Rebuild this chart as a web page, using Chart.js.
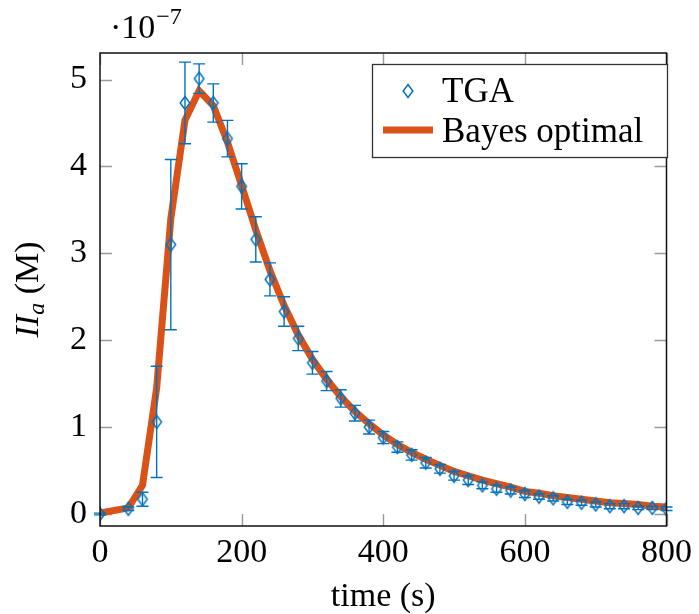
<!DOCTYPE html>
<html>
<head>
<meta charset="utf-8">
<script src="https://cdn.jsdelivr.net/npm/chart.js@4"></script>
<style>
  body { margin: 0; background: #fff; }
  #wrap { width: 699px; height: 614px; }
</style>
</head>
<body>
<div id="wrap"><canvas id="myChart" width="699" height="614"></canvas></div>
<script>
  // time in seconds, values in units of 1e-7 M
  const times = [0, 40, 60, 80, 100, 120, 140, 160, 180, 200, 220, 240, 260, 280, 300, 320, 340, 360, 380, 400,
    420, 440, 460, 480, 500, 520, 540, 560, 580, 600, 620, 640, 660, 680, 700, 720, 740, 760, 780, 800];
  const tga = [0.00, 0.06, 0.17, 1.06, 3.10, 4.73, 5.01, 4.73, 4.32, 3.77, 3.16, 2.70, 2.33, 2.02, 1.74, 1.53, 1.33, 1.16, 1.00, 0.88,
    0.77, 0.68, 0.59, 0.52, 0.44, 0.39, 0.33, 0.29, 0.27, 0.23, 0.20, 0.18, 0.14, 0.13, 0.11, 0.09, 0.09, 0.07, 0.07, 0.06];
  const tgaErr = [0.01, 0.02, 0.08, 0.64, 0.98, 0.47, 0.17, 0.22, 0.21, 0.26, 0.26, 0.19, 0.17, 0.14, 0.13, 0.11, 0.10, 0.09, 0.08, 0.07,
    0.06, 0.06, 0.06, 0.05, 0.05, 0.05, 0.04, 0.04, 0.04, 0.04, 0.03, 0.03, 0.03, 0.03, 0.03, 0.03, 0.03, 0.02, 0.02, 0.02];
  const bayes = [0.01, 0.07, 0.33, 1.45, 3.40, 4.53, 4.87, 4.70, 4.28, 3.78, 3.27, 2.80, 2.40, 2.06, 1.78, 1.55, 1.35, 1.18, 1.04, 0.91,
    0.80, 0.71, 0.63, 0.56, 0.49, 0.44, 0.39, 0.35, 0.31, 0.26, 0.24, 0.21, 0.19, 0.17, 0.15, 0.13, 0.12, 0.11, 0.09, 0.08];
  const xTicks = [0, 200, 400, 600, 800];
  const yTicks = [0, 1, 2, 3, 4, 5];

  const BLUE = '#0072BD';
  const ORANGE = '#D95319';
  const SERIF = '"Liberation Serif", "Times New Roman", serif';

  // hollow tall diamond like pgfplots' mark=diamond
  function diamond() {
    const c = document.createElement('canvas');
    c.width = 14; c.height = 16;
    const g = c.getContext('2d');
    g.strokeStyle = BLUE;
    g.lineWidth = 1.5;
    g.beginPath();
    g.moveTo(7, 1.5); g.lineTo(11.8, 8); g.lineTo(7, 14.5); g.lineTo(2.2, 8); g.closePath();
    g.stroke();
    return c;
  }
  const diamondImg = diamond();

  const decor = {
    id: 'decor',
    beforeDatasetsDraw(chart) {
      const {ctx, chartArea: a, scales: {x, y}} = chart;
      ctx.save();
      ctx.strokeStyle = '#9a9a9a';
      ctx.lineWidth = 1.4;
      ctx.beginPath();
      xTicks.forEach(v => {
        const px = Math.round(x.getPixelForValue(v)) + 0.5;
        ctx.moveTo(px, a.bottom); ctx.lineTo(px, a.bottom - 12);
        ctx.moveTo(px, a.top); ctx.lineTo(px, a.top + 12);
      });
      yTicks.forEach(v => {
        const py = Math.round(y.getPixelForValue(v)) + 0.5;
        ctx.moveTo(a.left, py); ctx.lineTo(a.left + 12, py);
        ctx.moveTo(a.right, py); ctx.lineTo(a.right - 12, py);
      });
      ctx.stroke();
      ctx.restore();
    },
    beforeDatasetDraw(chart, args) {
      if (args.index !== 0) return;
      const {ctx, scales: {x, y}} = chart;
      ctx.save();
      ctx.strokeStyle = BLUE;
      ctx.lineWidth = 1.4;
      ctx.beginPath();
      times.forEach((t, i) => {
        const px = x.getPixelForValue(t);
        const y1 = y.getPixelForValue(tga[i] + tgaErr[i]);
        const y2 = y.getPixelForValue(tga[i] - tgaErr[i]);
        ctx.moveTo(px, y1); ctx.lineTo(px, y2);
        ctx.moveTo(px - 6, y1); ctx.lineTo(px + 6, y1);
        ctx.moveTo(px - 6, y2); ctx.lineTo(px + 6, y2);
      });
      ctx.stroke();
      ctx.restore();
    },
    afterDraw(chart) {
      const {ctx, chartArea: a} = chart;
      ctx.save();
      // frame
      ctx.strokeStyle = '#111';
      ctx.lineWidth = 1.5;
      ctx.strokeRect(a.left, a.top, a.right - a.left, a.bottom - a.top);

      // legend
      const lx = 372, ly = 64, lw = 295, lh = 93;
      ctx.fillStyle = '#fff';
      ctx.fillRect(lx, ly, lw, lh);
      ctx.strokeStyle = '#333';
      ctx.lineWidth = 1.3;
      ctx.strokeRect(lx + 0.5, ly + 0.5, lw, lh);
      const ds = chart.data.datasets;
      ctx.drawImage(diamondImg, 401, 83);
      ctx.strokeStyle = ORANGE;
      ctx.lineWidth = 7;
      ctx.beginPath(); ctx.moveTo(383, 130); ctx.lineTo(433, 130); ctx.stroke();
      ctx.fillStyle = '#000';
      ctx.font = '35px ' + SERIF;
      ctx.textBaseline = 'alphabetic';
      ctx.textAlign = 'left';
      ctx.fillText(ds[0].label, 442, 102);
      ctx.fillText(ds[1].label, 442, 142);

      // exponent label
      ctx.font = '34px ' + SERIF;
      ctx.fillText('\u00b710', 110, 38);
      const w10 = ctx.measureText('\u00b710').width;
      ctx.font = '24px ' + SERIF;
      ctx.fillText('\u22127', 110 + w10 + 1, 24);

      // x title
      ctx.font = '34px ' + SERIF;
      ctx.textAlign = 'center';
      ctx.fillText('time (s)', (a.left + a.right) / 2, 606);

      // y title, rotated, II_a (M)
      ctx.translate(38, (a.top + a.bottom) / 2);
      ctx.rotate(-Math.PI / 2);
      ctx.textAlign = 'left';
      const it = 'italic 34px ' + SERIF, sub = 'italic 24px ' + SERIF, up = '34px ' + SERIF;
      ctx.font = it; const w1 = ctx.measureText('II').width;
      ctx.font = sub; const w2 = ctx.measureText('a').width;
      ctx.font = up; const w3 = ctx.measureText(' (M)').width;
      let cx = -(w1 + w2 + w3) / 2;
      ctx.font = it; ctx.fillText('II', cx, 0); cx += w1;
      ctx.font = sub; ctx.fillText('a', cx, 6); cx += w2;
      ctx.font = up; ctx.fillText(' (M)', cx, 0);
      ctx.restore();
    }
  };

  const ctx = document.getElementById('myChart').getContext('2d');
  const myChart = new Chart(ctx, {
    type: 'scatter',
    data: {
      datasets: [{
        label: 'TGA',
        data: times.map((t, i) => ({x: t, y: tga[i]})),
        pointStyle: diamondImg,
        pointRadius: 7,
        showLine: false,
        order: 1
      }, {
        label: 'Bayes optimal',
        type: 'line',
        data: times.map((t, i) => ({x: t, y: bayes[i]})),
        borderColor: ORANGE,
        borderWidth: 7,
        borderJoinStyle: 'miter',
        pointRadius: 0,
        tension: 0,
        fill: false,
        order: 2
      }]
    },
    options: {
      responsive: false,
      animation: false,
      layout: { padding: { top: 53, right: 28, left: 0, bottom: 0 } },
      plugins: { legend: { display: false }, tooltip: { enabled: false } },
      scales: {
        x: {
          type: 'linear',
          min: 0,
          max: 800,
          afterFit: s => { s.height = 88; },
          afterBuildTicks: s => { s.ticks = xTicks.map(v => ({value: v})); },
          grid: { display: false, drawTicks: false },
          border: { display: false },
          ticks: { color: '#000', padding: 7, font: { family: SERIF, size: 34 } }
        },
        y: {
          type: 'linear',
          min: -0.138,
          max: 5.305,
          afterFit: s => { s.width = 100; },
          afterBuildTicks: s => { s.ticks = yTicks.map(v => ({value: v})); },
          grid: { display: false, drawTicks: false },
          border: { display: false },
          ticks: { color: '#000', padding: 13, font: { family: SERIF, size: 34 } }
        }
      }
    },
    plugins: [decor]
  });
</script>
</body>
</html>
